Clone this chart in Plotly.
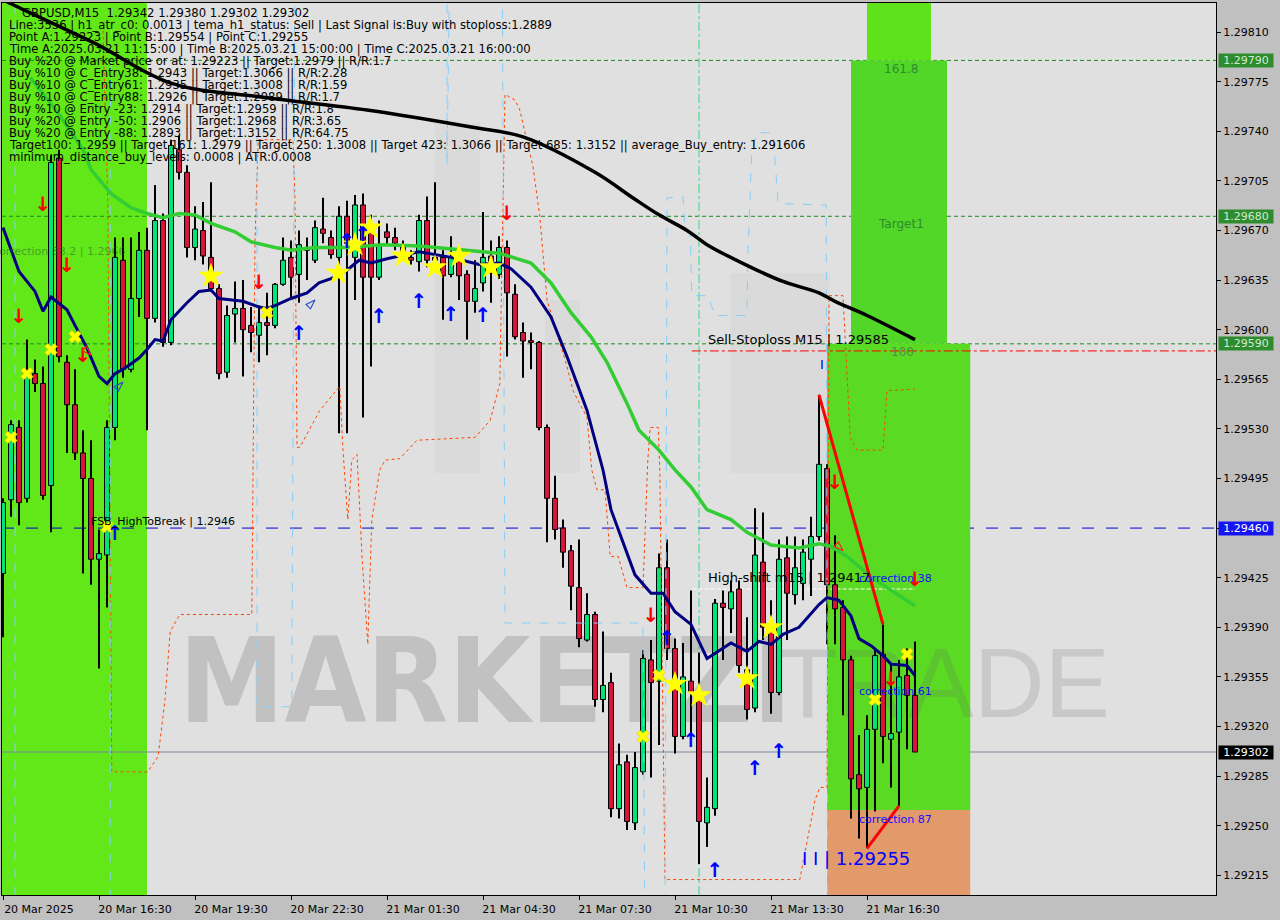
import plotly.graph_objects as go

# ---------------- data ----------------
x_tick_bars = [0, 12, 24, 36, 48, 60, 72, 84, 96, 108]
x_tick_labels = ["20 Mar 2025", "20 Mar 16:30", "20 Mar 19:30", "20 Mar 22:30", "21 Mar 01:30",
                 "21 Mar 04:30", "21 Mar 07:30", "21 Mar 10:30", "21 Mar 13:30", "21 Mar 16:30"]
y_tick_values = [1.29215, 1.29250, 1.29285, 1.29320, 1.29355, 1.29390, 1.29425, 1.29460, 1.29495,
                 1.29530, 1.29565, 1.29600, 1.29635, 1.29670, 1.29705, 1.29740, 1.29775, 1.29810]
y_tick_labels = ["1.29215", "1.29250", "1.29285", "1.29320", "1.29355", "1.29390", "1.29425", "1.29460",
                 "1.29495", "1.29530", "1.29565", "1.29600", "1.29635", "1.29670", "1.29705", "1.29740",
                 "1.29775", "1.29810"]

bar_open = [1.29428, 1.29480, 1.29531, 1.29481, 1.29569, 1.29562, 1.29490, 1.29721, 1.29577, 1.29547,
            1.29513, 1.29495, 1.29438, 1.29441, 1.29531, 1.29649, 1.29572, 1.29622, 1.29656, 1.29608,
            1.29677, 1.29591, 1.29727, 1.29711, 1.29658, 1.29670, 1.29651, 1.29629, 1.29570, 1.29611,
            1.29615, 1.29603, 1.29596, 1.29605, 1.29603, 1.29632, 1.29651, 1.29639, 1.29658, 1.29649,
            1.29671, 1.29665, 1.29651, 1.29680, 1.29651, 1.29688, 1.29670, 1.29637, 1.29669, 1.29665,
            1.29660, 1.29651, 1.29648, 1.29677, 1.29651, 1.29651, 1.29639, 1.29651, 1.29639, 1.29620,
            1.29633, 1.29652, 1.29639, 1.29658, 1.29625, 1.29598, 1.29592, 1.29591, 1.29531, 1.29481,
            1.29460, 1.29444, 1.29418, 1.29381, 1.29399, 1.29339, 1.29351, 1.29262, 1.29295, 1.29252,
            1.29288, 1.29367, 1.29352, 1.29432, 1.29375, 1.29313, 1.29352, 1.29344, 1.29252, 1.29262,
            1.29407, 1.29403, 1.29417, 1.29360, 1.29333, 1.29436, 1.29390, 1.29344, 1.29439, 1.29413,
            1.29421, 1.29438, 1.29454, 1.29502, 1.29420, 1.29404, 1.29367, 1.29286, 1.29277, 1.29318,
            1.29371, 1.29311, 1.29316, 1.29356, 1.29342]
bar_high = [1.29481, 1.29536, 1.29536, 1.29593, 1.29579, 1.29574, 1.29723, 1.29727, 1.29582, 1.29572,
            1.29529, 1.29522, 1.29459, 1.29536, 1.29665, 1.29665, 1.29665, 1.29669, 1.29672, 1.29702,
            1.29682, 1.29734, 1.29737, 1.29716, 1.29687, 1.29690, 1.29704, 1.29632, 1.29617, 1.29634,
            1.29635, 1.29616, 1.29617, 1.29626, 1.29633, 1.29665, 1.29663, 1.29670, 1.29665, 1.29677,
            1.29693, 1.29670, 1.29687, 1.29691, 1.29695, 1.29696, 1.29681, 1.29677, 1.29675, 1.29672,
            1.29663, 1.29656, 1.29681, 1.29694, 1.29704, 1.29656, 1.29666, 1.29656, 1.29642, 1.29649,
            1.29683, 1.29663, 1.29666, 1.29663, 1.29632, 1.29605, 1.29598, 1.29592, 1.29533, 1.29497,
            1.29466, 1.29448, 1.29452, 1.29414, 1.29401, 1.29387, 1.29358, 1.29308, 1.29300, 1.29302,
            1.29374, 1.29381, 1.29442, 1.29452, 1.29382, 1.29379, 1.29416, 1.29372, 1.29284, 1.29410,
            1.29416, 1.29423, 1.29423, 1.29397, 1.29474, 1.29471, 1.29409, 1.29452, 1.29454, 1.29454,
            1.29452, 1.29468, 1.29554, 1.29505, 1.29455, 1.29409, 1.29370, 1.29314, 1.29328, 1.29374,
            1.29392, 1.29364, 1.29367, 1.29375, 1.29380]
bar_low = [1.29383, 1.29468, 1.29462, 1.29478, 1.29556, 1.29480, 1.29457, 1.29577, 1.29513, 1.29508,
           1.29428, 1.29420, 1.29361, 1.29404, 1.29522, 1.29566, 1.29570, 1.29609, 1.29529, 1.29605,
           1.29588, 1.29589, 1.29706, 1.29651, 1.29649, 1.29646, 1.29627, 1.29565, 1.29566, 1.29591,
           1.29567, 1.29584, 1.29577, 1.29582, 1.29601, 1.29631, 1.29622, 1.29619, 1.29635, 1.29647,
           1.29661, 1.29650, 1.29527, 1.29527, 1.29621, 1.29538, 1.29574, 1.29635, 1.29660, 1.29656,
           1.29650, 1.29646, 1.29641, 1.29644, 1.29642, 1.29607, 1.29637, 1.29621, 1.29593, 1.29612,
           1.29627, 1.29619, 1.29636, 1.29581, 1.29593, 1.29566, 1.29572, 1.29529, 1.29450, 1.29452,
           1.29432, 1.29402, 1.29376, 1.29380, 1.29334, 1.29330, 1.29256, 1.29255, 1.29247, 1.29247,
           1.29286, 1.29284, 1.29307, 1.29367, 1.29301, 1.29311, 1.29313, 1.29223, 1.29235, 1.29257,
           1.29367, 1.29386, 1.29358, 1.29325, 1.29330, 1.29381, 1.29329, 1.29342, 1.29381, 1.29406,
           1.29409, 1.29412, 1.29451, 1.29378, 1.29378, 1.29328, 1.29255, 1.29241, 1.29234, 1.29260,
           1.29294, 1.29277, 1.29264, 1.29304, 1.29302]
bar_close = [1.29478, 1.29533, 1.29478, 1.29567, 1.29562, 1.29483, 1.29718, 1.29581, 1.29547, 1.29513,
             1.29495, 1.29438, 1.29442, 1.29531, 1.29651, 1.29572, 1.29622, 1.29656, 1.29608, 1.29677,
             1.29591, 1.29730, 1.29711, 1.29658, 1.29671, 1.29652, 1.29629, 1.29569, 1.29610, 1.29615,
             1.29600, 1.29598, 1.29605, 1.29603, 1.29632, 1.29649, 1.29637, 1.29660, 1.29656, 1.29672,
             1.29668, 1.29653, 1.29680, 1.29661, 1.29688, 1.29637, 1.29637, 1.29660, 1.29665, 1.29661,
             1.29654, 1.29649, 1.29677, 1.29649, 1.29649, 1.29638, 1.29651, 1.29638, 1.29620, 1.29629,
             1.29651, 1.29640, 1.29658, 1.29626, 1.29595, 1.29592, 1.29591, 1.29531, 1.29481, 1.29459,
             1.29443, 1.29419, 1.29382, 1.29399, 1.29339, 1.29349, 1.29262, 1.29293, 1.29253, 1.29291,
             1.29368, 1.29351, 1.29432, 1.29375, 1.29313, 1.29355, 1.29344, 1.29253, 1.29263, 1.29407,
             1.29404, 1.29415, 1.29363, 1.29332, 1.29441, 1.29390, 1.29344, 1.29438, 1.29414, 1.29432,
             1.29443, 1.29454, 1.29505, 1.29420, 1.29403, 1.29367, 1.29283, 1.29276, 1.29318, 1.29370,
             1.29313, 1.29315, 1.29355, 1.29342, 1.29302]

# moving averages (read at the bars where they were digitised)
ma_fast_bar = [0, 2, 4, 5, 6, 8, 9, 10.5, 12, 13, 14, 15, 17, 18, 19, 20, 21, 23, 24.5, 26,
               27, 30, 32, 33, 34, 36, 38, 39.5, 41, 43, 44.5, 46, 48, 49.5, 52, 56, 58, 59.5, 62, 63.5,
               66, 68.5, 70.5, 73, 75, 76, 79, 81, 82.5, 84, 86, 88, 91, 93, 94.5, 96, 97.5, 99.5, 102, 103,
               104.5, 106, 107, 108.5, 110, 111, 113, 114]
ma_fast_val = [1.29672, 1.29641, 1.29627, 1.29613, 1.29623, 1.29614, 1.29603, 1.29587, 1.29567, 1.29562,
               1.29569, 1.29572, 1.29580, 1.29586, 1.29593, 1.29592, 1.29607, 1.29619, 1.29627, 1.29628,
               1.29622, 1.29620, 1.29616, 1.29615, 1.29617, 1.29622, 1.29626, 1.29633, 1.29636, 1.29642,
               1.29649, 1.29647, 1.29650, 1.29652, 1.29655, 1.29651, 1.29648, 1.29646, 1.29647, 1.29643,
               1.29630, 1.29609, 1.29581, 1.29543, 1.29501, 1.29473, 1.29427, 1.29414, 1.29414, 1.29401,
               1.29392, 1.29368, 1.29379, 1.29373, 1.29380, 1.29378, 1.29385, 1.29390, 1.29406, 1.29411,
               1.29409, 1.29398, 1.29382, 1.29377, 1.29370, 1.29364, 1.29363, 1.29356]
ma_mid_bar = [3.4, 7, 10, 11, 13.5, 16, 18, 20, 22, 24, 26, 29, 31, 34, 36, 39, 43, 47.5, 52, 58,
              62, 66, 68.5, 71, 73.5, 75.5, 78, 79.5, 82, 84, 86, 88, 91, 93, 96, 99.5, 102, 103.5, 105.5, 108,
              110.5, 114]
ma_mid_val = [1.29778, 1.29752, 1.29727, 1.29713, 1.29696, 1.29686, 1.29682, 1.29679, 1.29682, 1.29681,
              1.29675, 1.29669, 1.29662, 1.29658, 1.29656, 1.29658, 1.29658, 1.29660, 1.29659, 1.29656,
              1.29654, 1.29647, 1.29633, 1.29612, 1.29595, 1.29577, 1.29548, 1.29529, 1.29515, 1.29501,
              1.29489, 1.29473, 1.29466, 1.29457, 1.29448, 1.29446, 1.29449, 1.29447, 1.29440, 1.29428,
              1.29418, 1.29405]
ma_slow_bar = [-1, 1, 11.5, 21, 32.5, 45.5, 58.5, 65, 74, 79, 82, 85.5, 88, 93.5, 97.5, 102, 104, 108, 114]
ma_slow_val = [1.29836, 1.29830, 1.29802, 1.29774, 1.29764, 1.29755, 1.29743, 1.29736, 1.29711, 1.29692,
               1.29681, 1.29670, 1.29660, 1.29644, 1.29634, 1.29626, 1.29620, 1.29610, 1.29593]

# dotted channel lines
chan_red_bar = [12.5, 13.1, 13.6, 18.1, 19.4, 20.25, 20.9, 22.1, 31.1, 31.5, 31.9, 36.25, 36.5, 36.75, 37.1,
                39.6, 42.1, 42.5, 43.1, 43.6, 44.25, 44.9, 45.6, 46.1, 47.1, 47.75, 49.6, 51.75, 59, 60.9,
                62.1, 62.5, 62.75, 64, 64.6, 66.25, 67.1, 68, 69.6, 70.5, 71.25, 73, 73.6, 74.25, 75.25,
                75.9, 76.9, 78, 80, 80.25, 80.6, 80.9, 81.9, 82.1, 82.5, 82.75, 99.6, 101.5, 102.1, 103,
                103.25, 105, 105.9, 106.75, 110, 110.5, 114]
chan_red_val = [1.29811, 1.29691, 1.29288, 1.29288, 1.29299, 1.29339, 1.29387, 1.29399, 1.29399, 1.29663,
                1.29734, 1.29734, 1.29691, 1.29517, 1.29517, 1.29543, 1.29560, 1.29515, 1.29466, 1.29508,
                1.29512, 1.29438, 1.29378, 1.29466, 1.29501, 1.29508, 1.29509, 1.29522, 1.29524, 1.29536,
                1.29562, 1.29691, 1.29766, 1.29762, 1.29755, 1.29715, 1.29680, 1.29621, 1.29591, 1.29574,
                1.29557, 1.29538, 1.29501, 1.29487, 1.29487, 1.29440, 1.29440, 1.29418, 1.29418, 1.29454,
                1.29508, 1.29531, 1.29531, 1.29501, 1.29339, 1.29212, 1.29212, 1.29268, 1.29277, 1.29277,
                1.29624, 1.29624, 1.29524, 1.29515, 1.29515, 1.29557, 1.29558]
chan_blue_bar = [1.5, 1.5, 13.4, 13.4, 13.75, 31.75, 31.75, 36.1, 36.5, 55.5, 55.5, 55.9, 62.4, 62.75, 80,
                 80.25, 82.75, 83, 85, 85.25, 85.9, 86.1, 88.1, 89, 93, 93.1, 93.6, 94.25, 96.25, 96.9,
                 102.1, 102.9, 103.1]
chan_blue_val = [1.2988, 1.2916, 1.2916, 1.29741, 1.2988, 1.2988, 1.29334, 1.29334, 1.2988, 1.2988,
                 1.29716, 1.2988, 1.2988, 1.29393, 1.29393, 1.2916, 1.2916, 1.29693, 1.29694, 1.29670,
                 1.29668, 1.29624, 1.29624, 1.29610, 1.29610, 1.29649, 1.29727, 1.29739, 1.29739, 1.29689,
                 1.29688, 1.29688, 1.2916]

# signal markers
star_bar = [26, 41.9, 44, 45.9, 50, 54, 57, 61, 84, 87, 93, 96]
star_val = [1.29638, 1.29640, 1.29660, 1.29672, 1.29652, 1.29644, 1.29652, 1.29644, 1.29350, 1.29342,
            1.29354, 1.29390]
cross_bar = [1, 3, 6, 9, 13, 33, 80, 82, 109, 113]
cross_val = [1.29524, 1.29569, 1.29586, 1.29595, 1.29461, 1.29612, 1.29313, 1.29356, 1.29339, 1.29371]
up_bar = [14, 37, 43, 45, 47, 52, 56, 60, 83, 86, 89, 94, 97]
up_val = [1.29455, 1.29596, 1.29661, 1.29666, 1.29608, 1.29619, 1.29610, 1.29609, 1.29381, 1.29309,
          1.29217, 1.29289, 1.29301]
down_bar = [2, 5, 8, 10, 32, 63, 81, 104, 111, 114]
down_val = [1.29608, 1.29687, 1.29644, 1.29581, 1.29632, 1.29681, 1.29397, 1.29491, 1.29352, 1.29423]
open_up_bar = [15, 39]
open_up_val = [1.29563, 1.29621]
open_down_bar = [11, 105]
open_down_val = [1.29582, 1.29444]

trend_a_bar = [102, 110]
trend_a_val = [1.29554, 1.29392]
trend_b_bar = [108, 112]
trend_b_val = [1.29234, 1.29264]

# levels
level_1618 = 1.29790
level_target1 = 1.29680
level_100 = 1.29590
level_fsb = 1.29460
level_last = 1.29302
level_sell_sl = 1.29585
level_high_shift = 1.29417
zone_left_end_bar = 18
zone_a = [108, 116, 1.29790, 1.2990]
zone_b = [106, 118, 1.29590, 1.29790]
zone_c = [103, 120.9, 1.29261, 1.29590]
zone_d = [103, 120.9, 1.2915, 1.29261]
vline_bar = 87

info_lines = [
    "GBPUSD,M15  1.29342 1.29380 1.29302 1.29302",
    "Line:3536 | h1_atr_c0: 0.0013 | tema_h1_status: Sell | Last Signal is:Buy with stoploss:1.2889",
    "Point A:1.29223 | Point B:1.29554 | Point C:1.29255",
    "Time A:2025.03.21 11:15:00 | Time B:2025.03.21 15:00:00 | Time C:2025.03.21 16:00:00",
    "Buy %20 @ Market price or at: 1.29223 || Target:1.2979 || R/R:1.7",
    "Buy %10 @ C_Entry38: 1.2943 || Target:1.3066 || R/R:2.28",
    "Buy %10 @ C_Entry61: 1.2935 || Target:1.3008 || R/R:1.59",
    "Buy %10 @ C_Entry88: 1.2926 || Target:1.2989 || R/R:1.7",
    "Buy %10 @ Entry -23: 1.2914 || Target:1.2959 || R/R:1.8",
    "Buy %20 @ Entry -50: 1.2906 || Target:1.2968 || R/R:3.65",
    "Buy %20 @ Entry -88: 1.2893 || Target:1.3152 || R/R:64.75",
    "Target100: 1.2959 || Target 161: 1.2979 || Target 250: 1.3008 || Target 423: 1.3066 || Target 685: 1.3152 || average_Buy_entry: 1.291606",
    "minimum_distance_buy_levels: 0.0008 | ATR:0.0008",
]

# ---------------- figure ----------------
W, H = 1280, 920
ML, MR, MT, MB = 2, 64, 3, 25
X_RANGE = [-0.125, 151.625]
Y_RANGE = [1.292011, 1.298305]
FONT = "DejaVu Sans"


def px_x(px):
    return (px - ML) / (W - ML - MR)


def px_y(py):
    return (H - MB - py) / (H - MT - MB)


fig = go.Figure()

# watermark (base subplot, drawn under the candles)
fig.add_trace(go.Scatter(x=[60.3], y=[1.29344], mode="text", text=["<b>MARKETZI</b>"],
                         textfont=dict(family="DejaVu Sans Condensed, Liberation Sans", size=118, weight="bold",
                                       color="rgba(95,95,95,0.24)"),
                         hoverinfo="skip"))
fig.add_trace(go.Scatter(x=[117.6], y=[1.29344], mode="text", text=["TRADE"],
                         textfont=dict(family="Liberation Sans", size=98, color="rgba(100,100,100,0.19)"),
                         hoverinfo="skip"))

n = len(bar_open)
pos = list(range(n))
ov = dict(xaxis="x2", yaxis="y2")

# wicks
fig.add_trace(go.Bar(x=pos, y=[h - l for h, l in zip(bar_high, bar_low)], base=bar_low, width=0.14,
                     marker=dict(color="black", line=dict(width=0)), hoverinfo="skip", **ov))
# bodies
up_i = [i for i in pos if bar_close[i] >= bar_open[i]]
dn_i = [i for i in pos if bar_close[i] < bar_open[i]]
for idx, col in ((up_i, "#00E676"), (dn_i, "#DC143C")):
    fig.add_trace(go.Bar(
        x=idx,
        y=[max(abs(bar_close[i] - bar_open[i]), 0.000012) for i in idx],
        base=[min(bar_close[i], bar_open[i]) for i in idx],
        width=0.62, marker=dict(color=col, line=dict(color="black", width=1)), hoverinfo="skip", **ov))

# channels
fig.add_trace(go.Scatter(x=chan_red_bar, y=chan_red_val, mode="lines",
                         line=dict(color="#FF4500", width=1, dash="dot"), hoverinfo="skip", **ov))
fig.add_trace(go.Scatter(x=chan_blue_bar, y=chan_blue_val, mode="lines",
                         line=dict(color="#87CEFA", width=1, dash="dash"), hoverinfo="skip", **ov))
# MAs
fig.add_trace(go.Scatter(x=ma_slow_bar, y=ma_slow_val, mode="lines", line=dict(color="black", width=3.5),
                         line_shape="spline", hoverinfo="skip", **ov))
fig.add_trace(go.Scatter(x=ma_mid_bar, y=ma_mid_val, mode="lines", line=dict(color="#32CD32", width=3.5),
                         hoverinfo="skip", **ov))
fig.add_trace(go.Scatter(x=ma_fast_bar, y=ma_fast_val, mode="lines", line=dict(color="#000080", width=3),
                         hoverinfo="skip", **ov))
# trend lines
for bx, by in ((trend_a_bar, trend_a_val), (trend_b_bar, trend_b_val)):
    fig.add_trace(go.Scatter(x=bx, y=by, mode="lines", line=dict(color="#FF0000", width=3),
                             hoverinfo="skip", **ov))

# markers
fig.add_trace(go.Scatter(x=cross_bar, y=cross_val, mode="markers",
                         marker=dict(symbol="x", size=11, color="#FFFF00", line=dict(color="#D8C000", width=0.5)),
                         hoverinfo="skip", **ov))
fig.add_trace(go.Scatter(x=star_bar, y=star_val, mode="markers",
                         marker=dict(symbol="star", size=19, color="#FFFF00", line=dict(width=0)),
                         hoverinfo="skip", **ov))
fig.add_trace(go.Scatter(x=up_bar, y=up_val, mode="text", text=["<b>↑</b>"] * len(up_bar),
                         textfont=dict(family=FONT, size=20, color="#0000FF"), hoverinfo="skip", **ov))
fig.add_trace(go.Scatter(x=down_bar, y=down_val, mode="text", text=["<b>↓</b>"] * len(down_bar),
                         textfont=dict(family=FONT, size=20, color="#FF0000"), hoverinfo="skip", **ov))
fig.add_trace(go.Scatter(x=open_up_bar, y=open_up_val, mode="markers",
                         marker=dict(symbol="arrow-open", angle=45, size=10, color="#3050D0", line=dict(width=1.2)),
                         hoverinfo="skip", **ov))
fig.add_trace(go.Scatter(x=open_down_bar, y=open_down_val, mode="markers",
                         marker=dict(symbol="arrow-open", angle=135, size=10, color="#FF2020", line=dict(width=1.2)),
                         hoverinfo="skip", **ov))

# ---------------- shapes ----------------
shapes = []
shapes.append(dict(type="rect", layer="below", xref="paper", yref="paper", x0=0, x1=px_x(3 + 8 * zone_left_end_bar),
                   y0=0, y1=1, fillcolor="#62E818", line=dict(width=0)))
# faint background logo shading
for (a, b, c, d) in ((435, 123, 480, 473), (545, 300, 580, 473), (730, 273, 830, 473)):
    shapes.append(dict(type="rect", layer="below", xref="paper", yref="paper",
                       x0=px_x(a), x1=px_x(c), y0=px_y(d), y1=px_y(b),
                       fillcolor="rgba(0,0,0,0.025)", line=dict(width=0)))
for z, col in ((zone_a, "#5EE21B"), (zone_b, "#52D628"), (zone_c, "#5ADA22"), (zone_d, "#E39A6A")):
    shapes.append(dict(type="rect", layer="below", xref="x", yref="y", x0=z[0], x1=z[1], y0=z[2], y1=z[3],
                       fillcolor=col, line=dict(width=0)))
for lv in (level_1618, level_target1, level_100):
    shapes.append(dict(type="line", layer="below", xref="paper", yref="y", x0=0, x1=1, y0=lv, y1=lv,
                       line=dict(color="#1E8B1E", width=1, dash="4px,3px")))
shapes.append(dict(type="line", layer="below", xref="paper", yref="y", x0=0, x1=1, y0=level_fsb, y1=level_fsb,
                   line=dict(color="#0000CD", width=1, dash="12px,12px")))
shapes.append(dict(type="line", layer="below", xref="paper", yref="y", x0=0, x1=1, y0=level_last, y1=level_last,
                   line=dict(color="#778899", width=1)))
shapes.append(dict(type="line", layer="below", xref="x", yref="y", x0=86.1, x1=X_RANGE[1], y0=level_sell_sl,
                   y1=level_sell_sl, line=dict(color="#FF0000", width=1, dash="dashdot")))
shapes.append(dict(type="line", layer="below", xref="x", yref="y", x0=86.2, x1=114, y0=level_high_shift,
                   y1=level_high_shift, line=dict(color="#FFFFFF", width=1, dash="4px,2px")))
shapes.append(dict(type="line", layer="below", xref="x", yref="paper", x0=vline_bar, x1=vline_bar, y0=0, y1=1,
                   line=dict(color="#2EDC86", width=1, dash="dashdot")))

# ---------------- annotations ----------------
ann = []
for k, t in enumerate(info_lines):
    ann.append(dict(xref="paper", yref="paper", x=px_x(20 if k == 0 else 7), y=px_y(13.3 + 12.0 * k),
                    xanchor="left", yanchor="middle", text=t, showarrow=False,
                    font=dict(family=FONT, size=11.6, color="black")))


def txt(x, y, t, size=11, color="black", anchor="left"):
    ann.append(dict(xref="paper", yref="paper", x=px_x(x), y=px_y(y), xanchor=anchor, yanchor="middle",
                    text=t, showarrow=False, font=dict(family=FONT, size=size, color=color)))


txt(706, 339, "Sell-Stoploss M15 | 1.29585", 13)
txt(706, 577, "High-shift m15 | 1.29417", 13)
txt(89, 521, "FSB_HighToBreak | 1.2946", 11)
txt(-9, 252, "correction 38.2 | 1.2966", 11, "rgba(40,100,40,0.55)")
txt(901, 69, "161.8", 12, "#2E8B2E", "center")
txt(901, 224, "Target1", 12, "#2E8B2E", "center")
txt(902, 352, "100", 12, "#4E8F4E", "center")
txt(857, 578, "correction 38", 11, "#1010FF")
txt(857, 691, "correction 61", 11, "#1010FF")
txt(857, 819, "correction 87", 11, "#1010FF")
txt(800, 858, "I I | 1.29255", 18, "#0000FF")
txt(818, 364, "I", 13, "#0000FF")

for lv, bg, fg in ((level_1618, "#2E8B2E", "#D0ECD0"), (level_target1, "#2E8B2E", "#D0ECD0"),
                   (level_100, "#2E8B2E", "#D0ECD0"), (level_fsb, "#1414F5", "#FFFFFF"),
                   (level_last, "#000000", "#FFFFFF")):
    ann.append(dict(xref="paper", yref="y", x=1, y=lv, xanchor="left", yanchor="middle", xshift=2,
                    text="%.5f" % lv, showarrow=False, bgcolor=bg, width=54, height=13, borderpad=0,
                    font=dict(family=FONT, size=11, color=fg)))

axis_common = dict(showgrid=False, zeroline=False, showline=True, linecolor="black", linewidth=1,
                   mirror=True, ticks="outside", ticklen=4, tickcolor="black", automargin=False,
                   tickfont=dict(family=FONT, size=11, color="black"), fixedrange=True)

fig.update_layout(
    width=W, height=H, margin=dict(l=ML, r=MR, t=MT, b=MB, autoexpand=False),
    paper_bgcolor="#C0C0C0", plot_bgcolor="#E0E0E0", showlegend=False, barmode="overlay",
    xaxis=dict(range=X_RANGE, tickvals=x_tick_bars, ticktext=x_tick_labels, ticklabelshift=36, **axis_common),
    yaxis=dict(range=Y_RANGE, side="right", tickvals=y_tick_values, ticktext=y_tick_labels, **axis_common),
    xaxis2=dict(range=X_RANGE, overlaying="x", visible=False, fixedrange=True),
    yaxis2=dict(range=Y_RANGE, overlaying="y", visible=False, fixedrange=True),
    shapes=shapes, annotations=ann,
)

fig.write_html("out.html", config={"displayModeBar": False},
               post_script="document.body.style.margin='0px';document.body.style.overflow='hidden';")
